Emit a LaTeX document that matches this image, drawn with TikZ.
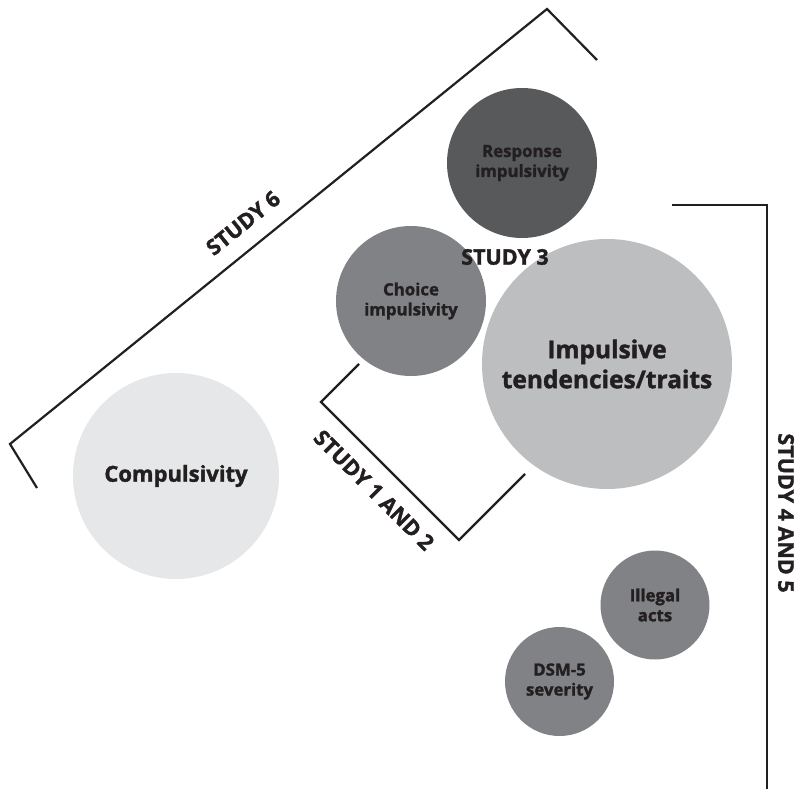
\documentclass[tikz,border=0pt]{standalone}
\usepackage{fontspec}
\setmainfont{Open Sans}[BoldFeatures={FakeBold=1.6}]
\usetikzlibrary{positioning}
\definecolor{darkc}{RGB}{88,89,91}
\definecolor{midc}{RGB}{128,130,133}
\definecolor{lightc}{RGB}{188,190,192}
\definecolor{palec}{RGB}{230,231,232}
\definecolor{ink}{RGB}{35,31,32}

\begin{document}
\begin{tikzpicture}[x=1pt, y=-1pt,
    bubble/.style={circle, inner sep=0pt, align=center, text=ink,
      font=\bfseries\fontsize{16.8}{20}\selectfont},
    studylabel/.style={text=ink, inner sep=0pt,
      font=\bfseries\fontsize{21.5}{24}\selectfont},
    bracket/.style={draw=ink, line width=2.2pt}]
  \useasboundingbox (0,0) rectangle (795,789);
  \node [bubble, fill=palec, minimum size=206pt,
    font=\bfseries\fontsize{22}{26}\selectfont] (compuls) at (176,476) {Compulsivity};
  \node [bubble, fill=darkc, minimum size=150pt] (resp) at (522,163)
    {Response\\impulsivity};
  \node [bubble, fill=midc, minimum size=150pt] (choice) at (411,301)
    {Choice\\impulsivity};
  \node [bubble, fill=lightc, minimum size=250pt,
    font=\bfseries\fontsize{24.5}{30}\selectfont] (impuls) at (607,364)
    {Impulsive\\tendencies/traits};
  \node [bubble, fill=midc, minimum size=109pt] (illegal) at (655,605)
    {Illegal\\acts};
  \node [bubble, fill=midc, minimum size=109pt] (dsm) at (559.5,681.5)
    {DSM-5\\severity};
  \node [studylabel, rotate=39] (study6) at (243,223) {STUDY 6};
  \node [studylabel] (study3) at (505,257) {STUDY 3};
  \node [studylabel, rotate=-45] (study12) at (374,490) {STUDY 1 AND 2};
  \node [studylabel, rotate=-90] (study45) at (786,513) {STUDY 4 AND 5};
  \draw [bracket] (37,488) -- (10,444) -- (547,9) -- (597,60);
  \draw [bracket] (359,364) -- (321,402) -- (459,540) -- (525,474);
  \draw [bracket] (672,205) -- (767,205) -- (767,789);
\end{tikzpicture}
\end{document}
